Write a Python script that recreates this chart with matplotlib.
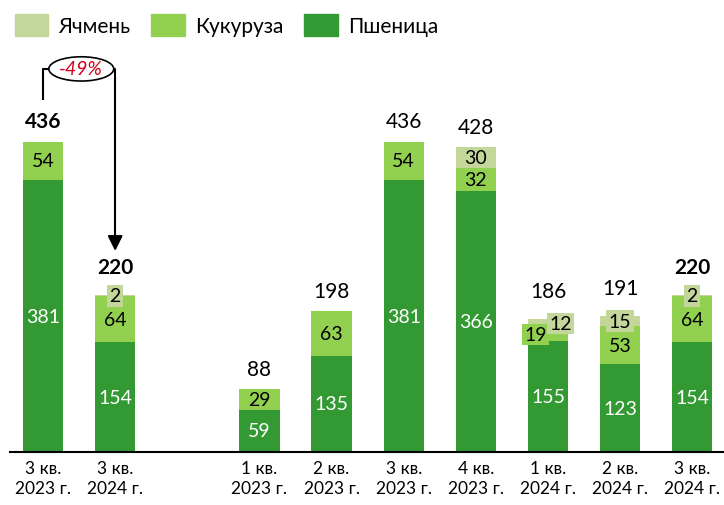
import matplotlib.pyplot as plt
from matplotlib.patches import Ellipse, Patch

plt.rcParams['font.family'] = ['Lato', 'DejaVu Sans']

# data
categories = ['3 кв.\n2023 г.', '3 кв.\n2024 г.',
              '1 кв.\n2023 г.', '2 кв.\n2023 г.', '3 кв.\n2023 г.', '4 кв.\n2023 г.',
              '1 кв.\n2024 г.', '2 кв.\n2024 г.', '3 кв.\n2024 г.']
positions = [0, 1, 3, 4, 5, 6, 7, 8, 9]
wheat = [381, 154, 59, 135, 381, 366, 155, 123, 154]
corn = [54, 64, 29, 63, 54, 32, 19, 53, 64]
barley = [0, 2, 0, 0, 0, 30, 12, 15, 2]
totals = [436, 220, 88, 198, 436, 428, 186, 191, 220]
bold_totals = [True, True, False, False, False, False, False, False, True]
change_label = '-49%'

c_wheat = '#339933'
c_corn = '#92d050'
c_barley = '#c4d79b'

fig = plt.figure(figsize=(7.24, 5.06), dpi=100)
ax = fig.add_axes([10 / 724, 53 / 506, 714 / 724, 453 / 506])

w = 0.56
ax.bar(positions, wheat, w, color=c_wheat)
ax.bar(positions, corn, w, bottom=wheat, color=c_corn)
bot2 = [a + b for a, b in zip(wheat, corn)]
ax.bar(positions, barley, w, bottom=bot2, color=c_barley)

fs = 14
for i, x in enumerate(positions):
    ax.text(x, wheat[i] / 2, str(wheat[i]), ha='center', va='center',
            color='white', fontsize=fs)
    small = barley[i] and barley[i] < 20
    # corn label
    cx = x - 0.17 if (small and corn[i] < 25) else x
    kw = {}
    if corn[i] < 25:
        kw['bbox'] = dict(boxstyle='square,pad=0.12', fc=c_corn, ec='none')
    ax.text(cx, wheat[i] + corn[i] / 2, str(corn[i]), ha='center', va='center',
            color='black', fontsize=fs, **kw)
    if barley[i]:
        bx = x + 0.17 if corn[i] < 25 else x
        kw = {}
        if barley[i] < 20:
            kw['bbox'] = dict(boxstyle='square,pad=0.12', fc=c_barley, ec='none')
        ax.text(bx, bot2[i] + barley[i] / 2, str(barley[i]), ha='center', va='center',
                color='black', fontsize=fs, **kw)
    off = 13 if (barley[i] and barley[i] < 20) else 7
    ax.annotate(str(totals[i]), (x, totals[i]), xytext=(0, off), textcoords='offset points',
                ha='center', va='bottom', fontsize=15,
                fontweight='bold' if bold_totals[i] else 'normal')

# bracket with change
ax.plot([0, 0, 0.08], [494, 537, 537], color='black', lw=1.5, solid_capstyle='butt')
ax.plot([0.98, 1.0, 1.0], [537, 537, 300], color='black', lw=1.5, solid_capstyle='butt')
ax.annotate('', xy=(1.0, 278), xytext=(1.0, 302),
            arrowprops=dict(arrowstyle='-|>,head_length=0.9,head_width=0.45',
                            color='black', lw=1.5))
ax.add_patch(Ellipse((0.53, 537), 0.9, 34, fc='white', ec='black', lw=1.2))
ax.text(0.53, 537, change_label, ha='center', va='center', color='#d0021b',
        fontsize=14, style='italic')

ax.set_xlim(-0.458, 9.44)
ax.set_ylim(0, 635)
ax.set_xticks(positions)
ax.set_xticklabels(categories, fontsize=12.5, linespacing=1.3)
ax.tick_params(axis='x', length=0, pad=6)
ax.set_yticks([])
for s in ['top', 'right', 'left']:
    ax.spines[s].set_visible(False)
ax.spines['bottom'].set_linewidth(1.5)

handles = [Patch(color=c_barley, label='Ячмень'),
           Patch(color=c_corn, label='Кукуруза'),
           Patch(color=c_wheat, label='Пшеница')]
fig.legend(handles=handles, loc='upper left', bbox_to_anchor=(0.0, 1.0), ncol=3,
           frameon=False, fontsize=15, handlelength=1.6, handleheight=1.25,
           columnspacing=1.0, handletextpad=0.5, borderaxespad=0.3)

fig.savefig('out.png', dpi=100)
